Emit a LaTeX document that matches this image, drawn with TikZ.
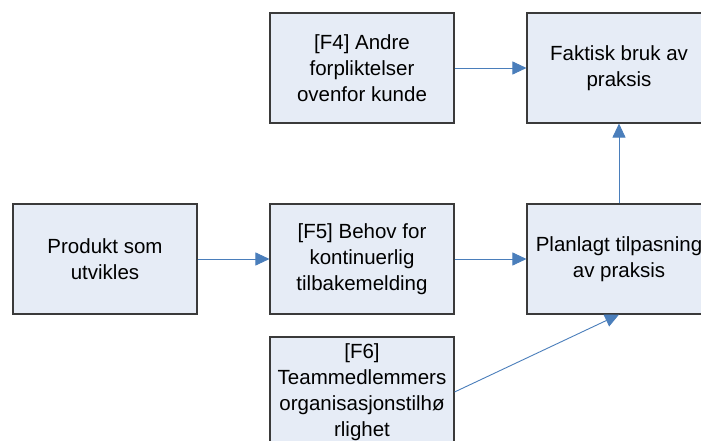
\documentclass[tikz,border=0pt]{standalone}
\usepackage{fontspec}
\setmainfont{Liberation Sans}
\usetikzlibrary{arrows.meta}
\definecolor{boxfill}{HTML}{E6ECF6}
\definecolor{boxline}{HTML}{3A3A3A}
\definecolor{arrowblue}{HTML}{4A7EBB}
\tikzset{
  factor/.style={draw=boxline, line width=1.1pt, fill=boxfill, rectangle,
    minimum width=184pt, minimum height=110pt, inner sep=2pt,
    align=center, font=\fontsize{20.5pt}{26pt}\selectfont},
  link/.style={draw=arrowblue, line width=0.9pt,
    -{Triangle[length=14pt,width=13pt]}}
}
\begin{document}
\begin{tikzpicture}[x=1pt,y=-1pt]
  \clip (0,0) rectangle (701,441);
  \fill[white] (0,0) rectangle (701,441);
  % boxes
  \node[factor] (f4)   at (362,68)  {[F4] Andre\\forpliktelser\\ovenfor kunde};
  \node[factor] (bruk) at (619,68)  {Faktisk bruk av\\praksis};
  \node[factor] (prod) at (105,259) {Produkt som\\utvikles};
  \node[factor] (f5)   at (362,259) {[F5] Behov for\\kontinuerlig\\tilbakemelding};
  \node[factor] (plan) at (619,259) {Planlagt tilpasning\\av praksis};
  \node[factor] (f6)   at (362,392) {[F6]\\Teammedlemmers\\organisasjonstilhø\\rlighet};
  % connectors
  \draw[link] (f4.east) -- (bruk.west);
  \draw[link] (prod.east) -- (f5.west);
  \draw[link] (f5.east) -- (plan.west);
  \draw[link] (plan.north) -- (bruk.south);
  \draw[link] (f6.east) -- (plan.south);
\end{tikzpicture}
\end{document}
